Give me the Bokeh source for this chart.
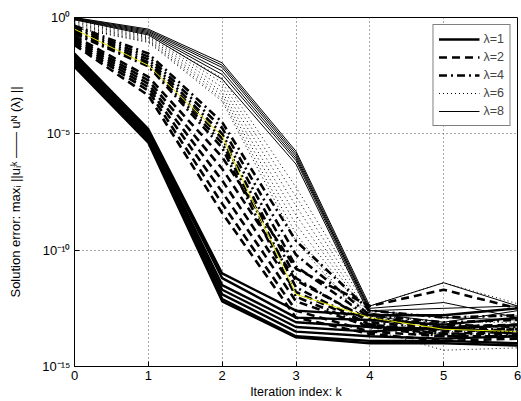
import numpy as np
from bokeh.plotting import figure
from bokeh.models import Range1d, FixedTicker, Legend
from bokeh.embed import file_html
from bokeh.resources import INLINE

# Iteration index
k = [0, 1, 2, 3, 4, 5, 6]

# Errors, given as log10 exponents (value = 10**exponent)
lam1_exp = [
    [-1.55, -4.80, -11.0, -12.6, -12.8, -12.8, -12.5],
    [-1.65, -4.90, -11.2, -12.9, -13.0, -13.2, -12.9],
    [-1.75, -5.00, -11.5, -13.1, -13.3, -13.4, -13.2],
    [-1.85, -5.10, -11.7, -13.3, -13.5, -13.3, -13.6],
    [-1.95, -5.20, -11.9, -13.5, -13.7, -13.8, -13.7],
    [-2.05, -5.30, -12.1, -13.7, -13.9, -13.9, -14.0],
    [-2.12, -5.38, -12.2, -13.75, -14.0, -14.0, -14.1],
]
lam2_exp = [
    [-0.80, -2.55, -6.0, -10.8, -12.4, -11.7, -12.5],
    [-0.88, -2.70, -6.5, -11.3, -13.0, -13.3, -13.2],
    [-0.95, -2.85, -7.0, -11.8, -13.2, -13.5, -13.4],
    [-1.02, -3.00, -7.5, -12.2, -13.3, -13.6, -13.5],
    [-1.10, -3.15, -8.0, -12.6, -13.5, -13.7, -13.7],
    [-1.18, -3.35, -8.4, -12.9, -13.6, -13.9, -13.8],
]
lam4_exp = [
    [-0.35, -1.55, -4.50, -9.6, -12.6, -12.9, -12.8],
    [-0.42, -1.68, -4.75, -10.2, -12.8, -13.1, -13.0],
    [-0.50, -1.80, -5.00, -10.7, -12.9, -13.2, -13.3],
    [-0.57, -1.92, -5.20, -11.2, -13.1, -13.4, -13.4],
    [-0.64, -2.02, -5.40, -11.6, -13.2, -13.6, -13.6],
    [-0.70, -2.10, -5.60, -12.0, -13.3, -13.7, -13.7],
]
highlight_exp = [-0.50, -2.06, -5.1, -11.9, -12.9, -13.4, -13.5]
lam6_exp = [
    [-0.12, -0.78, -2.60, -7.3, -12.4, -11.4, -12.3],
    [-0.18, -0.83, -2.80, -7.7, -12.6, -12.9, -12.8],
    [-0.24, -0.88, -3.00, -8.1, -12.8, -13.1, -13.1],
    [-0.30, -0.93, -3.20, -8.5, -12.9, -13.3, -13.3],
    [-0.36, -0.98, -3.35, -8.9, -13.0, -13.5, -13.5],
    [-0.42, -1.03, -3.50, -9.3, -13.4, -14.3, -14.2],
    [-0.45, -1.07, -3.60, -9.6, -13.3, -13.6, -13.6],
]
lam8_exp = [
    [-0.00, -0.50, -1.95, -5.75, -12.4, -11.4, -12.4],
    [-0.02, -0.55, -2.05, -5.85, -12.5, -12.25, -12.9],
    [-0.04, -0.60, -2.15, -5.95, -12.6, -12.5, -12.4],
    [-0.06, -0.65, -2.30, -6.05, -12.6, -12.9, -13.0],
    [-0.08, -0.70, -2.45, -6.15, -12.7, -13.1, -12.6],
    [-0.10, -0.75, -2.65, -6.30, -12.8, -13.3, -13.3],
]

legend_labels = ["λ=1", "λ=2", "λ=4", "λ=6", "λ=8"]
x_ticks = [0, 1, 2, 3, 4, 5, 6]
y_ticks = [1e0, 1e-5, 1e-10, 1e-15]
y_tick_labels = {1e0: "10⁰", 1e-5: "10⁻⁵", 1e-10: "10⁻¹⁰", 1e-15: "10⁻¹⁵"}

FONT = "Liberation Sans"

p = figure(width=521, height=401, y_axis_type="log",
           x_range=Range1d(0, 6), y_range=Range1d(1e-15, 1e0),
           output_backend="svg", toolbar_location=None,
           min_border_left=74, min_border_right=4, min_border_top=17,
           min_border_bottom=35,
           background_fill_color="white", border_fill_color="white")
p.outline_line_color = "black"
p.outline_line_width = 1

styles = [
    (lam1_exp, dict(line_width=2.4, line_dash="solid")),
    (lam2_exp, dict(line_width=2.6, line_dash="8 5")),
    (lam4_exp, dict(line_width=2.6, line_dash="8 4 2 4")),
    (lam6_exp, dict(line_width=1.0, line_dash="1 3")),
    (lam8_exp, dict(line_width=1.0, line_dash="solid")),
]

legend_items = []
for idx, (group, st) in enumerate(styles):
    first = None
    for series in group:
        r = p.line(k, 10.0 ** np.array(series), line_color="black", **st)
        if first is None:
            first = r
    legend_items.append((legend_labels[idx], [first]))
    if idx == 2:
        p.line(k, 10.0 ** np.array(highlight_exp), line_color="#e6e600", line_width=1.0)

legend = Legend(items=legend_items, location="top_right")
legend.margin = 7
legend.padding = 5
legend.spacing = 0
legend.glyph_width = 41
legend.glyph_height = 18
legend.label_height = 18
legend.label_standoff = 4
legend.label_text_font = FONT
legend.label_text_font_size = "12.5px"
legend.border_line_color = "black"
legend.border_line_width = 1
legend.background_fill_alpha = 1.0
p.add_layout(legend, "center")

p.xaxis.ticker = FixedTicker(ticks=x_ticks)
p.yaxis.ticker = FixedTicker(ticks=y_ticks)
p.yaxis.major_label_overrides = y_tick_labels
p.xgrid.ticker = FixedTicker(ticks=x_ticks)
p.ygrid.ticker = FixedTicker(ticks=y_ticks)
for g in (p.xgrid, p.ygrid):
    g.grid_line_color = "#555555"
    g.grid_line_dash = "1 3"
    g.grid_line_width = 1

for ax in (p.xaxis, p.yaxis):
    ax.axis_line_color = "black"
    ax.major_tick_line_color = "black"
    ax.major_tick_in = 5
    ax.major_tick_out = 0
    ax.minor_tick_line_color = None
    ax.major_label_text_font = FONT
    ax.major_label_text_font_size = "13px"
    ax.major_label_text_color = "black"
    ax.major_label_standoff = 4
    ax.axis_label_text_font = FONT
    ax.axis_label_text_font_size = "12.5px"
    ax.axis_label_text_font_style = "normal"
    ax.axis_label_text_color = "black"

p.xaxis.axis_label = "Iteration index: k"
p.xaxis.axis_label_standoff = 2
p.yaxis.axis_label = "Solution error: maxᵢ ||uᵢᵏ —— uᴺ (λ) ||"
p.yaxis.axis_label_text_font_size = "13px"
p.yaxis.axis_label_standoff = 16

open("out.html", "w").write(file_html(p, INLINE))
